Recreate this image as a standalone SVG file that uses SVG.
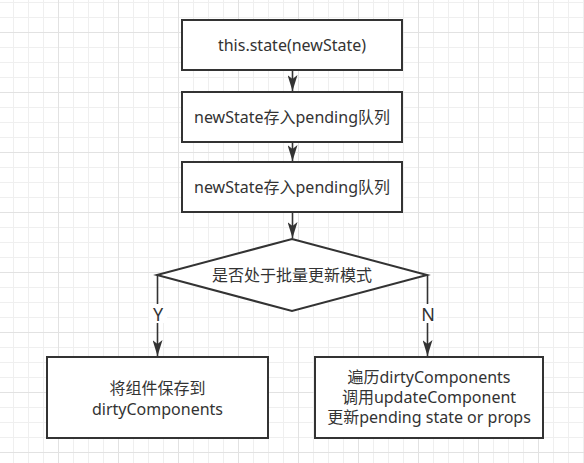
<svg xmlns="http://www.w3.org/2000/svg" width="584" height="463" viewBox="0 0 584 463">
  <style>
    .box { fill: #ffffff; stroke: #333333; stroke-width: 2; }
    .edge { fill: none; stroke: #333333; stroke-width: 1.6; }
    .t { font-family: "Noto Sans", "Noto Sans CJK SC", sans-serif; font-size: 16px; fill: #333333; text-anchor: middle; dominant-baseline: central; }
    .yn { font-family: "Noto Sans", "Liberation Sans", sans-serif; font-size: 18px; fill: #333333; text-anchor: middle; dominant-baseline: central; }
  </style>
  <defs>
    <pattern id="grid" patternUnits="userSpaceOnUse" x="58" y="32" width="60" height="60">
      <rect width="60" height="60" fill="#ffffff"/>
      <path d="M15.5,0V60M30.5,0V60M45.5,0V60M0,15.5H60M0,30.5H60M0,45.5H60" stroke="#efefef" stroke-width="1"/>
      <path d="M0.5,0V60M0,0.5H60" stroke="#e2e2e2" stroke-width="1"/>
    </pattern>
    <marker id="arr" viewBox="0 0 16 10" refX="16" refY="5" markerWidth="16" markerHeight="10" markerUnits="userSpaceOnUse" orient="auto">
      <path d="M0,0 L16,5 L0,10 L4,5 Z" fill="#333333"/>
    </marker>
  </defs>
  <rect width="584" height="463" fill="url(#grid)"/>

  <g id="connectors">
    <path class="edge" d="M292.5,71 V91" marker-end="url(#arr)"/>
    <path class="edge" d="M292.5,143 V161" marker-end="url(#arr)"/>
    <path class="edge" d="M292.5,213 V238" marker-end="url(#arr)"/>
    <path class="edge" d="M157.5,275 V356" marker-end="url(#arr)"/>
    <path class="edge" d="M427.5,275 V356" marker-end="url(#arr)"/>
    <g id="label-Y">
      <rect x="149" y="304" width="18" height="19" fill="#ffffff"/>
      <text class="yn" x="158" y="314">Y</text>
    </g>
    <g id="label-N">
      <rect x="419" y="304" width="18" height="19" fill="#ffffff"/>
      <text class="yn" x="428" y="314">N</text>
    </g>
  </g>

  <g id="node-setstate">
    <rect class="box" x="182" y="20" width="220" height="50"/>
    <text class="t" x="292" y="45">this.state(newState)</text>
  </g>
  <g id="node-pending1">
    <rect class="box" x="182" y="92" width="220" height="50"/>
    <text class="t" x="292" y="117">newState存入pending队列</text>
  </g>
  <g id="node-pending2">
    <rect class="box" x="182" y="162" width="220" height="50"/>
    <text class="t" x="292" y="187">newState存入pending队列</text>
  </g>
  <g id="node-decision">
    <polygon class="box" points="292,239 427,275 292,311 157,275"/>
    <text class="t" x="292" y="275">是否处于批量更新模式</text>
  </g>
  <g id="node-save">
    <rect class="box" x="47" y="357" width="221" height="81"/>
    <text class="t" x="157.5" y="388">将组件保存到</text>
    <text class="t" x="157.5" y="408.5">dirtyComponents</text>
  </g>
  <g id="node-update">
    <rect class="box" x="315" y="357" width="228" height="81"/>
    <text class="t" x="429" y="377">遍历dirtyComponents</text>
    <text class="t" x="429" y="397">调用updateComponent</text>
    <text class="t" x="429" y="417">更新pending state or props</text>
  </g>
</svg>
